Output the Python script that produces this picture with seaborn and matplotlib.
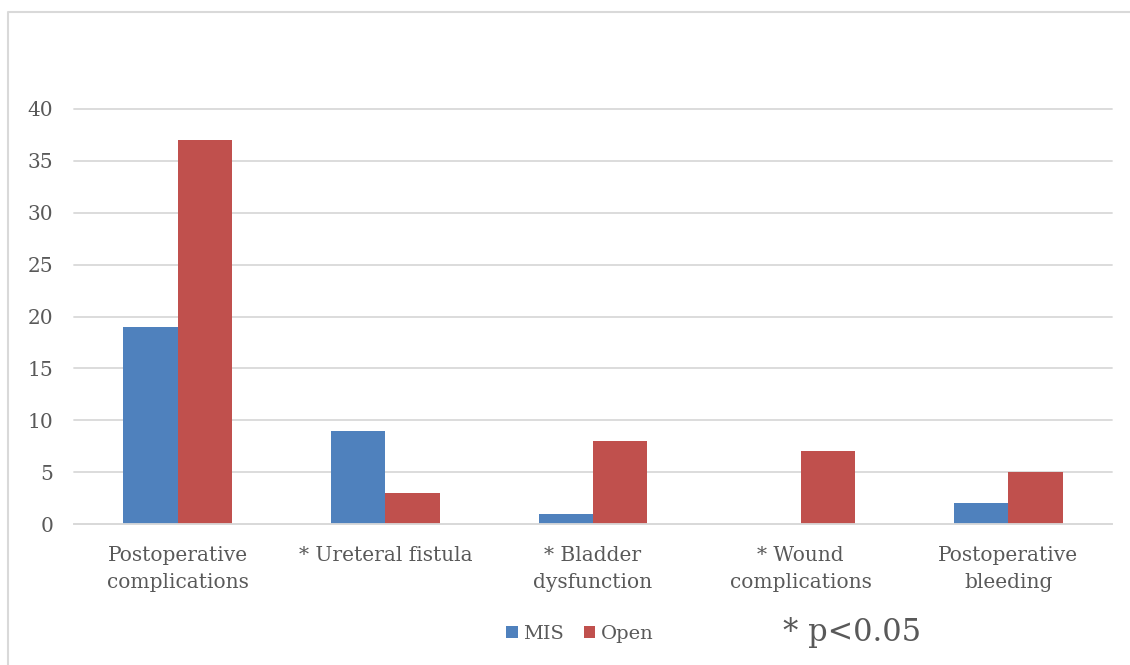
import matplotlib
matplotlib.use("Agg")
import matplotlib.pyplot as plt
from matplotlib.lines import Line2D
import pandas as pd
import seaborn as sns

# Complication counts by surgical approach
categories = [
    "Postoperative\ncomplications",
    "* Ureteral fistula",
    "* Bladder\ndysfunction",
    "* Wound\ncomplications",
    "Postoperative\nbleeding",
]
mis_counts = [19, 9, 1, 0, 2]
open_counts = [37, 3, 8, 7, 5]
groups = ["MIS", "Open"]
y_ticks = [0, 5, 10, 15, 20, 25, 30, 35, 40]

df = pd.DataFrame({
    "category": categories * 2,
    "count": mis_counts + open_counts,
    "group": [groups[0]] * len(categories) + [groups[1]] * len(categories),
})

sns.set_theme(style="white")
plt.rcParams["font.family"] = ["DejaVu Serif"]

text_color = "#595959"
grid_color = "#D9D9D9"
palette = {"MIS": "#4F81BD", "Open": "#C0504D"}

fig = plt.figure(figsize=(11.3, 6.65), dpi=100)
ax = fig.add_axes([74 / 1130, 1 - 524 / 665, (1112 - 74) / 1130, (524 - 109) / 665])

sns.barplot(data=df, x="category", y="count", hue="group", palette=palette,
            width=0.525, saturation=1, ax=ax, order=categories, hue_order=groups,
            linewidth=0)

ax.set_ylim(0, 40)
ax.set_yticks(y_ticks)
ax.set_xlim(-0.5, len(categories) - 0.5)
ax.yaxis.grid(True, color=grid_color, linewidth=1.3)
for gl in ax.get_ygridlines():
    gl.set_clip_on(False)
ax.set_axisbelow(True)
for side in ["top", "right", "left"]:
    ax.spines[side].set_visible(False)
ax.spines["bottom"].set_color(grid_color)
ax.spines["bottom"].set_linewidth(1.3)
ax.set_xlabel("")
ax.set_ylabel("")
ax.tick_params(axis="y", length=0, pad=15, labelsize=14.5, labelcolor=text_color)
ax.tick_params(axis="x", length=0, pad=16, labelsize=14.5, labelcolor=text_color)
for lbl in ax.get_xticklabels():
    lbl.set_linespacing(1.5)

# Legend below the plot area
handles, labels = ax.get_legend_handles_labels()
ax.get_legend().remove()
fig.legend(handles, labels, loc="center", bbox_to_anchor=(580 / 1130, 1 - 634 / 665),
           ncol=2, frameon=False, fontsize=14, labelcolor=text_color,
           handlelength=0.6, handleheight=0.6, handletextpad=0.3, columnspacing=1.0)

fig.text(852 / 1130, 1 - 633 / 665, "* p<0.05", ha="center", va="center",
         fontsize=22, color=text_color)

# Chart frame (left and top edges)
fig.add_artist(Line2D([8 / 1130, 8 / 1130, 1.0], [0.0, 1 - 12 / 665, 1 - 12 / 665],
                      transform=fig.transFigure, color=grid_color, linewidth=1.5))

fig.savefig("out.png", dpi=100, facecolor="white")
